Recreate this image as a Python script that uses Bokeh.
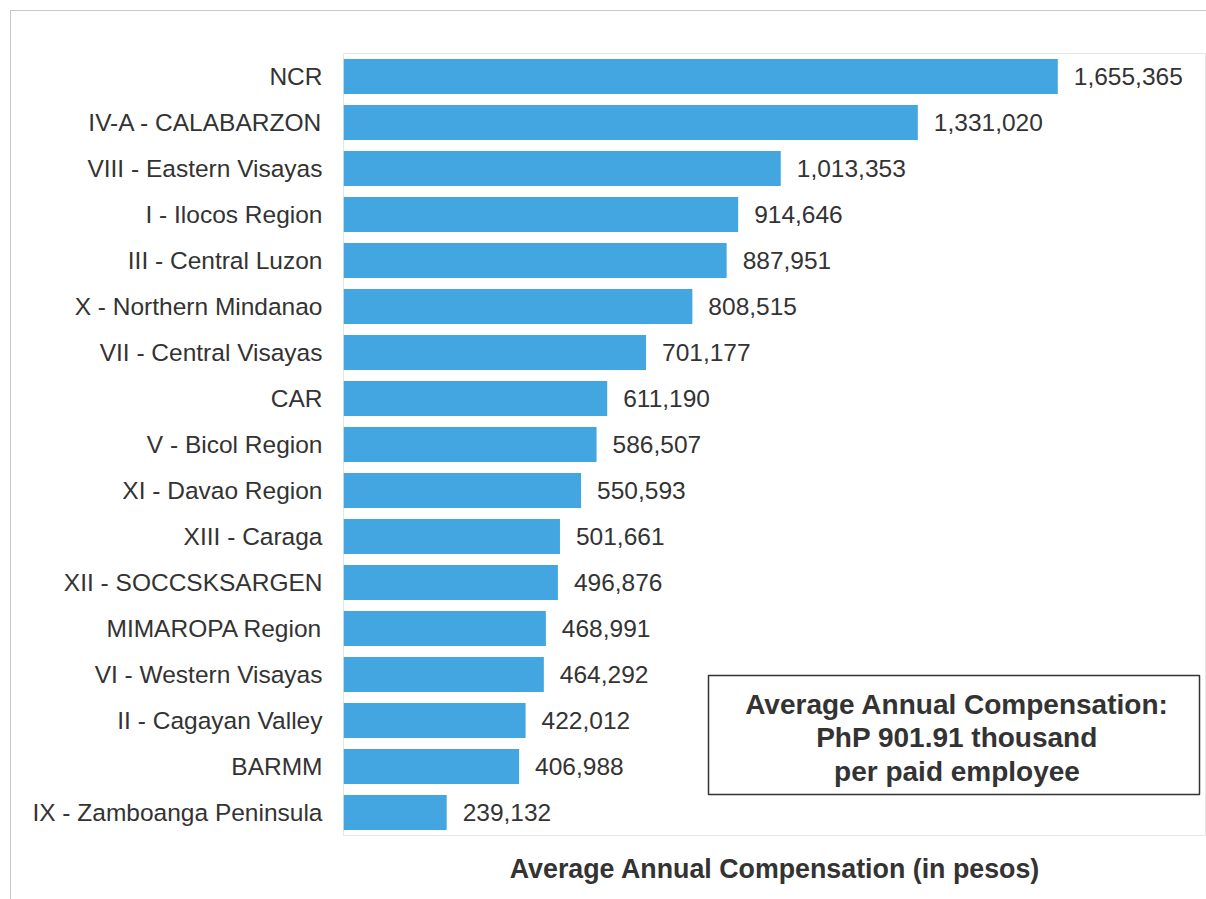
from bokeh.plotting import figure
from bokeh.models import Range1d, FixedTicker, ColumnDataSource
from bokeh.core.properties import value
from bokeh.embed import file_html
from bokeh.resources import INLINE

regions = ["NCR", "IV-A - CALABARZON", "VIII - Eastern Visayas", "I - Ilocos Region",
           "III - Central Luzon", "X - Northern Mindanao", "VII - Central Visayas", "CAR",
           "V - Bicol Region", "XI - Davao Region", "XIII - Caraga", "XII - SOCCSKSARGEN",
           "MIMAROPA Region", "VI - Western Visayas", "II - Cagayan Valley", "BARMM",
           "IX - Zamboanga Peninsula"]
values = [1655365, 1331020, 1013353, 914646, 887951, 808515, 701177, 611190, 586507,
          550593, 501661, 496876, 468991, 464292, 422012, 406988, 239132]
x_label = "Average Annual Compensation (in pesos)"
note_lines = ["Average Annual Compensation:", "PhP 901.91 thousand", "per paid employee"]

n = len(regions)
pos = [n - 1 - i for i in range(n)]
labels = [f"{v:,}" for v in values]
src = ColumnDataSource(dict(y=pos, v=values, lab=labels))

FONT = "Liberation Sans"
TXT = "#333333"
BAR = "#43a6e0"
EDGE = "#c8c8c8"

p = figure(width=1206, height=899, output_backend="svg", toolbar_location=None,
           x_range=Range1d(0, 2000000), y_range=Range1d(-0.5, n - 0.5),
           min_border_left=343, min_border_right=0, min_border_top=53, min_border_bottom=64)
p.border_fill_color = None
p.background_fill_color = "white"
p.styles = {
    "background": (f"linear-gradient({EDGE}, {EDGE}) 10px 10px / calc(100% - 10px) 1px no-repeat, "
                   f"linear-gradient({EDGE}, {EDGE}) 10px 10px / 1px calc(100% - 10px) no-repeat, #ffffff")
}

p.hbar(y="y", right="v", left=0, height=0.76, source=src, color=BAR, line_color=None)
p.text(x="v", y="y", text="lab", source=src, x_offset=16, text_baseline="middle",
       text_align="left", text_font=value(FONT), text_font_size="24.5px", text_color=TXT)

p.grid.visible = False
p.outline_line_color = "#e6e6e6"

ya = p.yaxis[0]
ya.ticker = FixedTicker(ticks=pos)
ya.major_label_overrides = {pos[i]: regions[i] for i in range(n)}
ya.axis_line_color = None
ya.major_tick_line_color = None
ya.minor_tick_line_color = None
ya.major_tick_out = 0
ya.major_label_standoff = 21
ya.major_label_text_font = FONT
ya.major_label_text_font_size = "24.5px"
ya.major_label_text_color = TXT

xa = p.xaxis[0]
xa.ticker = FixedTicker(ticks=[])
xa.axis_line_color = None
xa.major_tick_line_color = None
xa.minor_tick_line_color = None
xa.major_tick_out = 0
xa.major_label_standoff = 0
xa.axis_label = x_label
xa.axis_label_standoff = 18
xa.axis_label_text_font = FONT
xa.axis_label_text_font_size = "26.8px"
xa.axis_label_text_font_style = "bold"
xa.axis_label_text_color = TXT

# note box
p.quad(left=[845900], right=[1983800], top=[2.98], bottom=[0.39],
       fill_alpha=0, line_color="#333333", line_width=1.5)
note_y = [2.348, 1.62, 0.892]
p.text(x=[1421800] * 3, y=note_y, text=note_lines, text_align="center",
       text_baseline="alphabetic", text_font=value(FONT), text_font_size="28px",
       text_font_style="bold", text_color=TXT)

open("out.html", "w").write(file_html(p, INLINE))
